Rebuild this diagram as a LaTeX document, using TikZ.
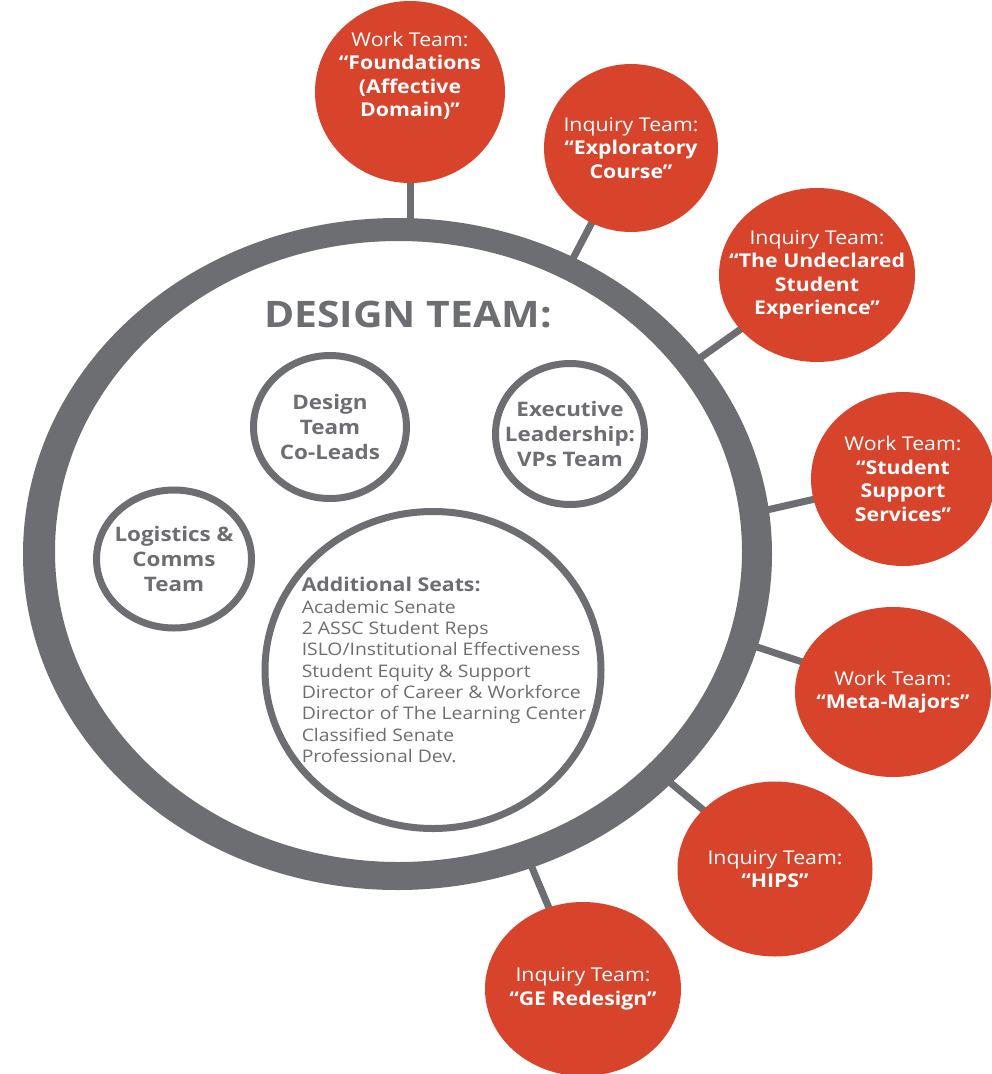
\documentclass[tikz,border=0pt]{standalone}
\usepackage{fontspec}
\setmainfont{Open Sans}[FakeStretch=1.12]
\usetikzlibrary{shapes.geometric,backgrounds}
\definecolor{ringgray}{HTML}{6D6E71}
\definecolor{teamred}{HTML}{D8432C}
\begin{document}
\begin{tikzpicture}[x=1pt,y=-1pt,
  teamtext/.style={text=white, align=center, font=\fontsize{19}{23.5}\selectfont},
  team/.style={ellipse, fill=teamred, inner sep=-40pt, teamtext},
  sub/.style={ellipse, draw=ringgray, line width=7pt, text=ringgray, align=center,
    inner sep=-30pt, font=\fontsize{20}{24.7}\selectfont\bfseries},
  link/.style={draw=ringgray, line width=7pt}]
\useasboundingbox (0,0) rectangle (992,1074);

% main ring (band slightly thicker at the sides, as in the reference)
\fill[ringgray, even odd rule]
  (397.5,554) ellipse [x radius=374.5pt, y radius=336pt]
  (398.5,551.5) ellipse [x radius=343.5pt, y radius=310.5pt];
\node[font=\fontsize{36.5}{40}\selectfont\bfseries, text=ringgray, inner sep=0pt] (title) at (408,315) {DESIGN TEAM:};

% inner groups
\node[sub, minimum width=153pt, minimum height=143pt] (colead) at (330,427) {Design\\Team\\Co-Leads};
\node[sub, minimum width=149pt, minimum height=141pt] (exec) at (570,434) {Executive\\Leadership:\\VPs Team};
\node[sub, minimum width=155pt, minimum height=138pt] (logi) at (174,559) {Logistics \&\\Comms\\Team};
\node[sub, minimum width=336pt, minimum height=317pt,
  label={[xshift=11pt, align=left, text=ringgray, inner sep=0pt,
    font=\fontsize{17.3}{21.3}\selectfont]center:{{\fontsize{19}{22}\selectfont\bfseries Additional Seats:}\\
    Academic Senate\\
    2 ASSC Student Reps\\
    ISLO/Institutional Effectiveness\\
    Student Equity \& Support\\
    Director of Career \& Workforce\\
    Director of The Learning Center\\
    Classified Senate\\
    Professional Dev.}}] (seats) at (433,670) {};

% outer teams
\node[team, minimum width=190pt, minimum height=182pt,
  label={[teamtext, inner sep=0pt, yshift=16pt]center:{Work Team:\\\textbf{“Foundations}\\\textbf{(Affective}\\\textbf{Domain)”}}}] (t1) at (410,92) {};
\node[team, minimum width=174pt, minimum height=168pt] (t2) at (631,148)
  {Inquiry Team:\\\textbf{“Exploratory}\\\textbf{Course”}};
\node[team, minimum width=196pt, minimum height=174pt] (t3) at (817,275)
  {Inquiry Team:\\\textbf{“The Undeclared}\\\textbf{Student}\\\textbf{Experience”}};
\node[team, minimum width=184pt, minimum height=174pt] (t4) at (903,479)
  {Work Team:\\\textbf{“Student}\\\textbf{Support}\\\textbf{Services”}};
\node[team, minimum width=196pt, minimum height=170pt] (t5) at (893,692)
  {Work Team:\\\textbf{“Meta-Majors”}};
\node[team, minimum width=195pt, minimum height=175pt] (t6) at (775,869)
  {Inquiry Team:\\\textbf{“HIPS”}};
\node[team, minimum width=196pt, minimum height=174pt] (t7) at (583,989)
  {Inquiry Team:\\\textbf{“GE Redesign”}};

% connector ends on the ring
\coordinate (r1) at (410,230);
\coordinate (r2) at (568,268);
\coordinate (r3) at (693,363);
\coordinate (r4) at (758,512);
\coordinate (r5) at (748,644);
\coordinate (r6) at (661,775);
\coordinate (r7) at (528,858);

\begin{pgfonlayer}{background}
\fill[white] (0,0) rectangle (992,1074);
\draw[link] (t1.center) -- (r1);
\draw[link] (t2.center) -- (r2);
\draw[link] (t3.center) -- (r3);
\draw[link] (t4.center) -- (r4);
\draw[link] (t5.center) -- (r5);
\draw[link] (t6.center) -- (r6);
\draw[link] (t7.center) -- (r7);
\end{pgfonlayer}
\end{tikzpicture}
\end{document}
